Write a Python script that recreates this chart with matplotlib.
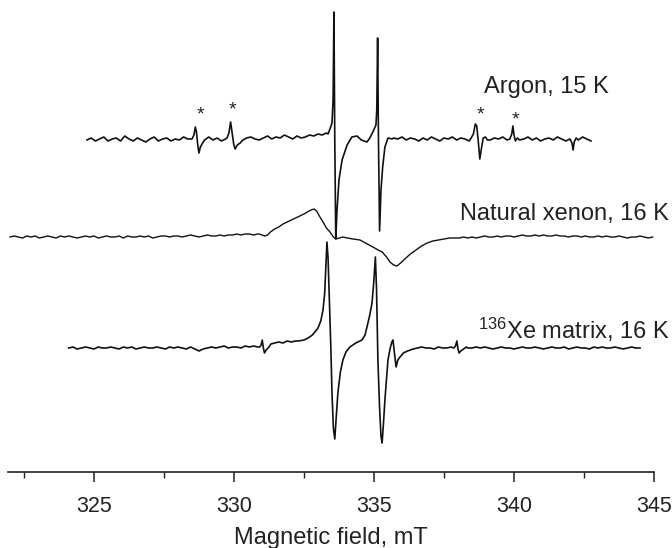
import numpy as np
import matplotlib
matplotlib.use("Agg")
import matplotlib.pyplot as plt

plt.rcParams['font.family'] = ['Liberation Sans', 'DejaVu Sans']
plt.rcParams['mathtext.fontset'] = 'custom'
plt.rcParams['mathtext.rm'] = 'Liberation Sans'
plt.rcParams['mathtext.it'] = 'Liberation Sans:italic'

# ---- data (field in mT, signal in arbitrary units) ----
# baseline noise, sampled every 0.15 mT
AR_START, XE_START, XE136_START, STEP = 324.75, 322.0, 324.1, 0.15

ar_noise = [
    0, 2, -1, 1, 3, -1, 1, 2, -1, 4,
    1, -1, 2, 0, -2, 1, 3, -1, 1, 2,
    -1, 1, 0, 3, 1, -1, 2, 0, 1, 3,
    0, 2, -1, 1, 2, 0, 1, -1, 2, 3,
    1, 0, 2, 4, 1, 3, 2, 5, 3, 1,
    4, 2, 3, 5, 4, 6, 7, 5, 6, 8,
    0, 0, 0, 0, 0, 0, 0, 0, 0, 0,
    0, 0, 0, 2, 1, 3, 0, 2, 1, -1,
    2, 0, 3, 1, -1, 2, 1, 3, 0, 2,
    1, -1, 2, 0, 0, 0, 0, 2, 1, 3,
    0, 1, 0, 2, 1, 3, 0, 2, -1, 1,
    2, 0, 3, 1, -1, 2, 1, 0, 3, 1, -1,
]

xe_noise = [
    0, 1, 0, -1, 1, 0, 1, -1, 0, 1,
    0, -1, 1, 0, 1, 0, -1, 0, 1, 0,
    1, -1, 0, 1, 0, 0, 1, -1, 1, 0,
    0, 1, 0, 1, -1, 0, 1, 1, 0, 1,
    1, 0, 1, 2, 1, 0, 1, 2, 1, 1,
    2, 1, 2, 2, 3, 2, 3, 3, 2, 3,
    0, 0, 0, 0, 0, 0, 0, 0, 0, 0,
    0, 0, 0, 0, 0, 0, 0, 0, 0, 0,
    0, 0, 0, 0, 0, 0, 0, 0, 0, 0,
    0, 0, 0, 0, 0, 0, 0, 0, 0, 0,
    0, 0, 0, 0, 0, 0, 0, -1, 0, -1,
    0, -1, 0, 1, 0, 0, 1, 0, 1, 1,
    0, 1, 2, 1, 1, 2, 1, 2, 1, 1,
    2, 1, 1, 0, 1, 1, 0, 1, 0, 0,
    1, 0, 1, 0, 0, 1, 0, -1, 0, 0,
    1, 0, -1, 0,
]

xe136_noise = [
    0, 1, -1, 0, 1, 0, -1, 1, 0, 0,
    1, 0, -1, 1, 0, 1, -1, 0, 1, 0,
    0, 1, 0, -1, 1, 0, 1, 0, -1, 1,
    -1, -3, -1, 0, 1, 0, 1, 2, 0, 1,
    1, 0, 2, 1, 2, 1, 0, 0, 0, 5,
    6, 5, 7, 6, 7, 6, 0, 0, 0, 0,
    0, 0, 0, 0, 0, 0, 0, 0, 0, 0,
    0, 0, 0, 0, 0, 0, 0, 0, 0, 0,
    0, 0, -1, 0, 1, 0, 0, -1, 1, 0,
    0, 1, 0, 0, 0, 0, 0, 1, 0, 1,
    0, -1, 0, 1, 0, 0, -1, 0, 1, 0,
    0, 1, 0, -1, 0, 1, 0, 0, 1, -1,
    0, 1, 0, 0, -1, 1, 0, 1, 0, 0,
    1, 0, -1, 0, 1, 0, 0,
]

# resolved features (field, signal)
ar_star1 = [(328.50, 1), (328.57, 5), (328.62, 13), (328.66, 8), (328.71, -6),
            (328.75, -13), (328.80, -7), (328.88, -3), (328.95, 0)]
ar_star2 = [(329.75, 2), (329.82, 7), (329.88, 18), (329.93, 8), (329.99, -4),
            (330.04, -9), (330.12, -5), (330.22, -3), (330.32, 0)]
ar_lines = [(333.15, 5), (333.30, 7), (333.36, 6), (333.44, 12), (333.50, 17),
            (333.54, 40), (333.57, 128), (333.60, 0), (333.635, -99),
            (333.68, -70), (333.75, -40), (333.86, -20), (334.04, -5),
            (334.21, 3), (334.39, 4), (334.55, 0), (334.75, -2), (334.85, 2),
            (334.96, 8), (335.07, 15), (335.10, 30), (335.13, 102),
            (335.16, 0), (335.20, -91), (335.25, -50), (335.31, -27),
            (335.39, -7), (335.50, 2), (335.65, 1)]
ar_star3 = [(338.45, 1), (338.55, 6), (338.62, 16), (338.67, 14), (338.72, 0),
            (338.78, -19), (338.84, -8), (338.90, 2), (338.98, 3), (339.05, 0)]
ar_star4 = [(339.85, 1), (339.92, 6), (339.96, 14), (340.00, 5), (340.05, -1),
            (340.12, 2), (340.20, 0)]
ar_dip = [(342.00, 1), (342.07, -3), (342.11, -10), (342.15, -2), (342.22, 2)]

xe_broad = [(330.90, 3), (331.00, 2), (331.10, 1), (331.20, 2), (331.30, 5),
            (331.45, 8), (331.60, 10), (331.75, 13), (331.90, 15), (332.05, 17),
            (332.20, 19), (332.35, 21), (332.50, 23), (332.62, 25), (332.75, 27),
            (332.86, 28), (332.95, 26), (333.05, 21), (333.18, 15), (333.30, 9),
            (333.43, 5), (333.55, 0), (333.64, -2), (333.76, -1), (333.89, 0),
            (334.05, -1), (334.25, -2), (334.50, -3), (334.70, -6), (334.96, -10),
            (335.15, -13), (335.29, -15), (335.45, -20), (335.57, -25),
            (335.70, -28), (335.82, -29), (335.95, -26), (336.10, -22),
            (336.30, -17), (336.50, -13), (336.70, -9), (336.90, -6),
            (337.10, -4), (337.30, -3), (337.50, -2), (337.70, -1), (337.90, -1)]

xe136_small1 = [(330.92, 1), (330.97, 3), (331.01, 8), (331.05, 0),
                (331.09, -5), (331.15, -2), (331.25, 1), (331.32, 4)]
xe136_lines = [(332.30, 7), (332.50, 8), (332.65, 10), (332.80, 13), (332.92, 17),
               (333.00, 20), (333.10, 27), (333.18, 38), (333.24, 55),
               (333.28, 80), (333.32, 106), (333.36, 90), (333.41, 45),
               (333.46, 0), (333.50, -45), (333.55, -80), (333.60, -91),
               (333.65, -70), (333.71, -45), (333.80, -24), (333.89, -12),
               (334.00, -4), (334.14, 1), (334.35, 5), (334.57, 8), (334.68, 13),
               (334.75, 21), (334.85, 33), (334.93, 45), (334.99, 65),
               (335.05, 91), (335.09, 60), (335.14, -12), (335.20, -60),
               (335.25, -88), (335.29, -95), (335.34, -75), (335.39, -52),
               (335.45, -30), (335.50, -12), (335.58, 0), (335.64, 6),
               (335.68, 8), (335.73, -5), (335.79, -19), (335.85, -12),
               (335.93, -9), (336.05, -5), (336.20, -3), (336.40, -1)]
xe136_small2 = [(337.85, 0), (337.91, 2), (337.96, 7), (338.00, -1),
                (338.04, -5), (338.10, -3), (338.20, -1), (338.30, 1)]

# vertical offsets of the stacked spectra
offsets = {"ar": 332, "xe": 235, "xe136": 124}
widths = {"ar": 1.2, "xe": 1.0, "xe136": 1.2}

star_field = [328.79, 329.96, 338.82, 340.04]
star_height = [359, 364, 359, 354]

labels = ["Argon, 15 K", "Natural xenon, 16 K", "$^{136}$Xe matrix, 16 K"]


def build(start, noise, segments):
    x = start + STEP * np.arange(len(noise))
    y = np.array(noise, dtype=float)
    keep = np.ones(len(x), dtype=bool)
    for seg in segments:
        lo, hi = seg[0][0], seg[-1][0]
        keep &= ~((x >= lo - 1e-9) & (x <= hi + 1e-9))
    xs = [x[keep]] + [np.array([p[0] for p in s]) for s in segments]
    ys = [y[keep]] + [np.array([p[1] for p in s], dtype=float) for s in segments]
    xs = np.concatenate(xs)
    ys = np.concatenate(ys)
    order = np.argsort(xs, kind="stable")
    return xs[order], ys[order]


fig = plt.figure(figsize=(6.72, 5.48), dpi=100)
ax = fig.add_axes([8 / 672, 76 / 548, 646 / 672, 472 / 548])

traces = [
    ("ar", build(AR_START, ar_noise, [ar_star1, ar_star2, ar_lines, ar_star3, ar_star4, ar_dip])),
    ("xe", build(XE_START, xe_noise, [xe_broad])),
    ("xe136", build(XE136_START, xe136_noise, [xe136_small1, xe136_lines, xe136_small2])),
]
for key, (fx, fy) in traces:
    ax.plot(fx, fy + offsets[key], color="#111111", lw=widths[key], solid_joinstyle="round")

for sx, sy in zip(star_field, star_height):
    ax.annotate("*", (sx, sy), xytext=(0, -5), textcoords="offset points",
                ha="center", va="baseline", fontsize=14, color="#222222")

ax.text(338.93, 379, labels[0], fontsize=17, ha="left", va="baseline", color="#222222")
ax.text(345.54, 252, labels[1], fontsize=17, ha="right", va="baseline", color="#222222")
ax.text(345.57, 133, labels[2], fontsize=17, ha="right", va="baseline", color="#222222")

ax.set_xlim(321.93, 345.0)
ax.set_ylim(0, 472)
ax.set_xticks([325, 330, 335, 340, 345])
ax.set_xticks([322.5, 327.5, 332.5, 337.5, 342.5], minor=True)
ax.tick_params(axis="x", which="major", direction="out", length=7.5, width=1.1,
               labelsize=15.5, pad=10, colors="#222222")
ax.tick_params(axis="x", which="minor", direction="out", length=4, width=1.0,
               colors="#222222")
ax.set_yticks([])
for side in ("left", "right", "top"):
    ax.spines[side].set_visible(False)
ax.spines["bottom"].set_linewidth(1.2)
ax.spines["bottom"].set_color("#222222")

ax.set_xlabel("Magnetic field, mT", fontsize=17, color="#222222")
ax.xaxis.set_label_coords(0.5, -0.117)

fig.savefig("out.png", dpi=100)
